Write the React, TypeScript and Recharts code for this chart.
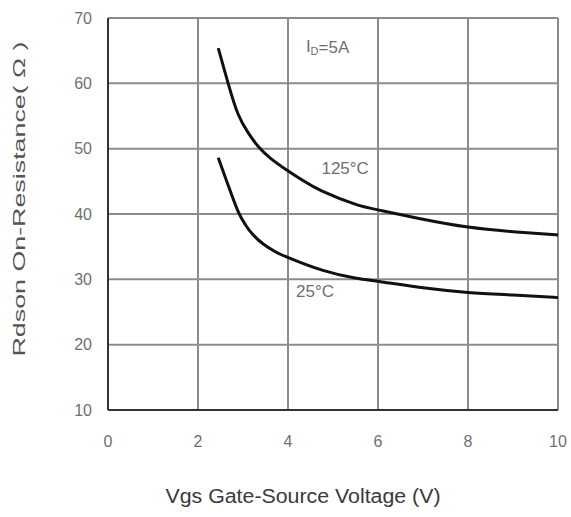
import { LineChart, Line, XAxis, YAxis, CartesianGrid, ReferenceDot, Label } from 'recharts';

const xTicks = [0, 2, 4, 6, 8, 10];
const yTicks = [10, 20, 30, 40, 50, 60, 70];

const hot125 = [
  { vgs: 2.45, r: 65.4 },
  { vgs: 2.67, r: 60 },
  { vgs: 2.89, r: 55.3 },
  { vgs: 3.11, r: 52.5 },
  { vgs: 3.33, r: 50.4 },
  { vgs: 3.6, r: 48.6 },
  { vgs: 3.98, r: 46.7 },
  { vgs: 4.36, r: 45.0 },
  { vgs: 4.76, r: 43.5 },
  { vgs: 5.49, r: 41.5 },
  { vgs: 6.09, r: 40.5 },
  { vgs: 7, r: 39.2 },
  { vgs: 8, r: 38.0 },
  { vgs: 9, r: 37.3 },
  { vgs: 10, r: 36.8 },
];

const room25 = [
  { vgs: 2.45, r: 48.6 },
  { vgs: 2.67, r: 44.4 },
  { vgs: 2.89, r: 40.4 },
  { vgs: 3.05, r: 38.4 },
  { vgs: 3.2, r: 37.0 },
  { vgs: 3.45, r: 35.4 },
  { vgs: 3.7, r: 34.3 },
  { vgs: 3.98, r: 33.4 },
  { vgs: 4.76, r: 31.4 },
  { vgs: 5.49, r: 30.2 },
  { vgs: 6.09, r: 29.6 },
  { vgs: 7, r: 28.7 },
  { vgs: 8, r: 28.0 },
  { vgs: 9, r: 27.6 },
  { vgs: 10, r: 27.2 },
];

const notes = [
  { x: 4.88, y: 65.6, text: 'ID=5A' },
  { x: 5.27, y: 47.0, text: '125°C' },
  { x: 4.6, y: 28.2, text: '25°C' },
];

const font = '"Liberation Sans", Arial, sans-serif';
const textGray = '#707070';

function NoteLabel(props: any) {
  const { viewBox, value } = props;
  const cx = viewBox.x + (viewBox.width || 0) / 2;
  const cy = viewBox.y + (viewBox.height || 0) / 2;
  if (value === 'ID=5A') {
    return (
      <text x={cx} y={cy} textAnchor="middle" dominantBaseline="central" fontFamily={font} fontSize={17} fill={textGray}>
        I<tspan fontSize={11} dy={4}>D</tspan>
        <tspan dy={-4}>=5A</tspan>
      </text>
    );
  }
  return (
    <text x={cx} y={cy} textAnchor="middle" dominantBaseline="central" fontFamily={font} fontSize={17} fill={textGray}>
      {value}
    </text>
  );
}

function XTitle(props: any) {
  const { viewBox } = props;
  const x = viewBox.x + viewBox.width / 2 - 30;
  const y = viewBox.y + 93;
  return (
    <text x={x} y={y} textAnchor="middle" fontFamily={font} fontSize={20} fill="#3a3a3a" textLength={275} lengthAdjust="spacingAndGlyphs">
      Vgs Gate-Source Voltage (V)
    </text>
  );
}

function YTitle(props: any) {
  const { viewBox } = props;
  const x = viewBox.x + 19;
  const y = viewBox.y + viewBox.height / 2 - 15;
  return (
    <text
      x={x}
      y={y}
      transform={`rotate(-90 ${x} ${y})`}
      textAnchor="middle"
      dominantBaseline="central"
      fontFamily={font}
      fontSize={16}
      fill="#555"
      textLength={315}
      lengthAdjust="spacingAndGlyphs"
    >
      Rdson On-Resistance( Ω )
    </text>
  );
}

export default function App() {
  return (
    <div style={{ position: 'absolute', left: 0, top: 0, width: 571, height: 517, background: '#fff' }}>
      <LineChart width={571} height={517} margin={{ top: 18, right: 13, left: 0, bottom: 0 }}>
        <CartesianGrid stroke="#8c8c8c" strokeWidth={2} />
        <XAxis
          type="number"
          dataKey="vgs"
          domain={[0, 10]}
          ticks={xTicks}
          height={107}
          tickSize={0}
          tickMargin={26}
          stroke="#333"
          strokeWidth={2}
          tick={{ fill: textGray, fontSize: 16, fontFamily: font }}
        >
          <Label content={XTitle} />
        </XAxis>
        <YAxis
          type="number"
          domain={[10, 70]}
          ticks={yTicks}
          width={108}
          tickSize={0}
          tickMargin={16}
          stroke="#333"
          strokeWidth={2}
          tick={{ fill: textGray, fontSize: 16, fontFamily: font }}
        >
          <Label content={YTitle} />
        </YAxis>
        <Line data={hot125} dataKey="r" type="natural" stroke="#111" strokeWidth={3} dot={false} isAnimationActive={false} />
        <Line data={room25} dataKey="r" type="natural" stroke="#111" strokeWidth={3} dot={false} isAnimationActive={false} />
        {notes.map((n) => (
          <ReferenceDot
            key={n.text}
            x={n.x}
            y={n.y}
            r={0}
            fill="none"
            stroke="none"
            label={<NoteLabel value={n.text} />}
          />
        ))}
      </LineChart>
    </div>
  );
}
